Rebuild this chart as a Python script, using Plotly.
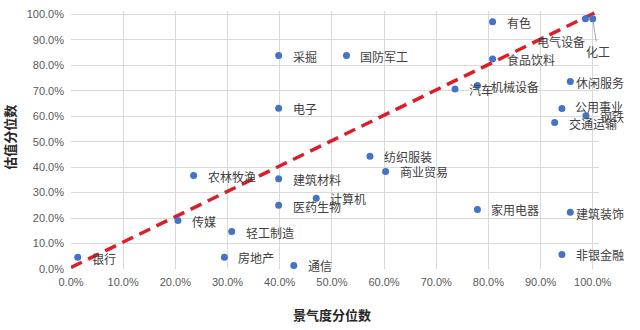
import plotly.graph_objects as go

# ---- data ----
names = ["银行", "传媒", "农林牧渔", "采掘", "国防军工", "电子", "纺织服装", "商业贸易",
         "建筑材料", "计算机", "医药生物", "轻工制造", "房地产", "通信", "家用电器",
         "建筑装饰", "非银金融", "有色", "电气设备", "化工", "食品饮料", "汽车",
         "机械设备", "休闲服务", "公用事业", "钢铁", "交通运输"]
x_vals = [1.3, 20.5, 23.5, 39.8, 52.8, 39.8, 57.3, 60.3,
          39.8, 47.0, 39.8, 30.8, 29.4, 42.7, 77.9,
          95.7, 94.1, 80.8, 98.6, 100.0, 80.8, 73.6,
          77.9, 95.7, 94.1, 98.7, 92.7]
y_vals = [4.6, 19.0, 36.7, 83.8, 83.8, 63.1, 44.3, 38.3,
          35.4, 27.8, 25.0, 14.7, 4.6, 1.4, 23.4,
          22.3, 5.7, 97.1, 98.3, 98.3, 82.5, 70.7,
          72.0, 73.6, 63.0, 60.2, 57.5]
diag_x = [0.0, 101.0]
diag_y = [0.6, 101.2]
tick_vals = [i * 10 for i in range(11)]
tick_text = [f"{v:.1f}%" for v in tick_vals]

# ---- label placement (style, px) ----
label_offsets = {
    "银行": (12, 1.5),
    "医药生物": (12, 1),
    "建筑装饰": (4, 1.5),
    "休闲服务": (4, 1),
    "公用事业": (11, -2),
    "电气设备": (-50, 22.7),
}
arrow_labels = {"化工": (5, 33)}

X0 = 71
Y0 = 269.5
XS = 522.0 / 100
YS = 254.8 / 100
xr = [0, 101.2]
yr = [0, 101.3]
plot_w = XS * xr[1]
plot_h = YS * yr[1]
W, H = 640, 330

fig = go.Figure()
fig.add_trace(go.Scatter(
    x=diag_x, y=diag_y, mode="lines",
    line=dict(color="#DC1E28", width=3.5, dash="12px,7px"),
    hoverinfo="skip", showlegend=False))
fig.add_trace(go.Scatter(
    x=x_vals, y=y_vals, mode="markers",
    marker=dict(color="#4472C4", size=7),
    cliponaxis=False, showlegend=False, text=names))

label_font = dict(family="Noto Sans CJK SC", size=12, color="#404040")
annotations = []
for n, xv, yv in zip(names, x_vals, y_vals):
    if n in arrow_labels:
        ax, ay = arrow_labels[n]
        annotations.append(dict(
            x=xv, y=yv, xref="x", yref="y", text=n, showarrow=True,
            arrowhead=0, arrowwidth=1, arrowcolor="#a6a6a6", ax=ax, ay=ay,
            standoff=3, font=label_font))
        continue
    dx, dy = label_offsets.get(n, (12, 0.5))
    annotations.append(dict(
        x=xv, y=yv, xref="x", yref="y", text=n, showarrow=False,
        xanchor="left", yanchor="middle", xshift=dx, yshift=-dy,
        font=label_font))

title_font = dict(family="Noto Sans CJK SC", size=13, color="#262626")
annotations.append(dict(
    x=50, xref="x", y=0, yref="paper", text="<b>景气度分位数</b>",
    showarrow=False, xanchor="center", yanchor="middle", yshift=-45.5,
    font=title_font))
annotations.append(dict(
    x=0, xref="paper", y=50, yref="y", text="<b>估值分位数</b>",
    showarrow=False, xanchor="center", yanchor="middle", xshift=-61,
    yshift=4, textangle=-90, font=title_font))

tick_font = dict(family="Liberation Sans, Arial", size=11, color="#595959")
fig.update_layout(
    width=W, height=H,
    margin=dict(l=X0, r=W - X0 - plot_w, t=Y0 - plot_h, b=H - Y0, autoexpand=False),
    paper_bgcolor="white", plot_bgcolor="white",
    annotations=annotations,
    xaxis=dict(range=xr, tickvals=tick_vals, ticktext=tick_text,
               showgrid=True, gridcolor="#d9d9d9", gridwidth=1,
               zeroline=False, showline=False, ticks="",
               tickfont=tick_font, ticklabelstandoff=5, fixedrange=True),
    yaxis=dict(range=yr, tickvals=tick_vals, ticktext=tick_text,
               showgrid=True, gridcolor="#d9d9d9", gridwidth=1,
               zeroline=False, showline=False, ticks="",
               tickfont=tick_font, ticklabelstandoff=6, fixedrange=True),
    font=dict(family="Noto Sans CJK SC"),
)
fig.write_html("out.html", config={"displayModeBar": False})
